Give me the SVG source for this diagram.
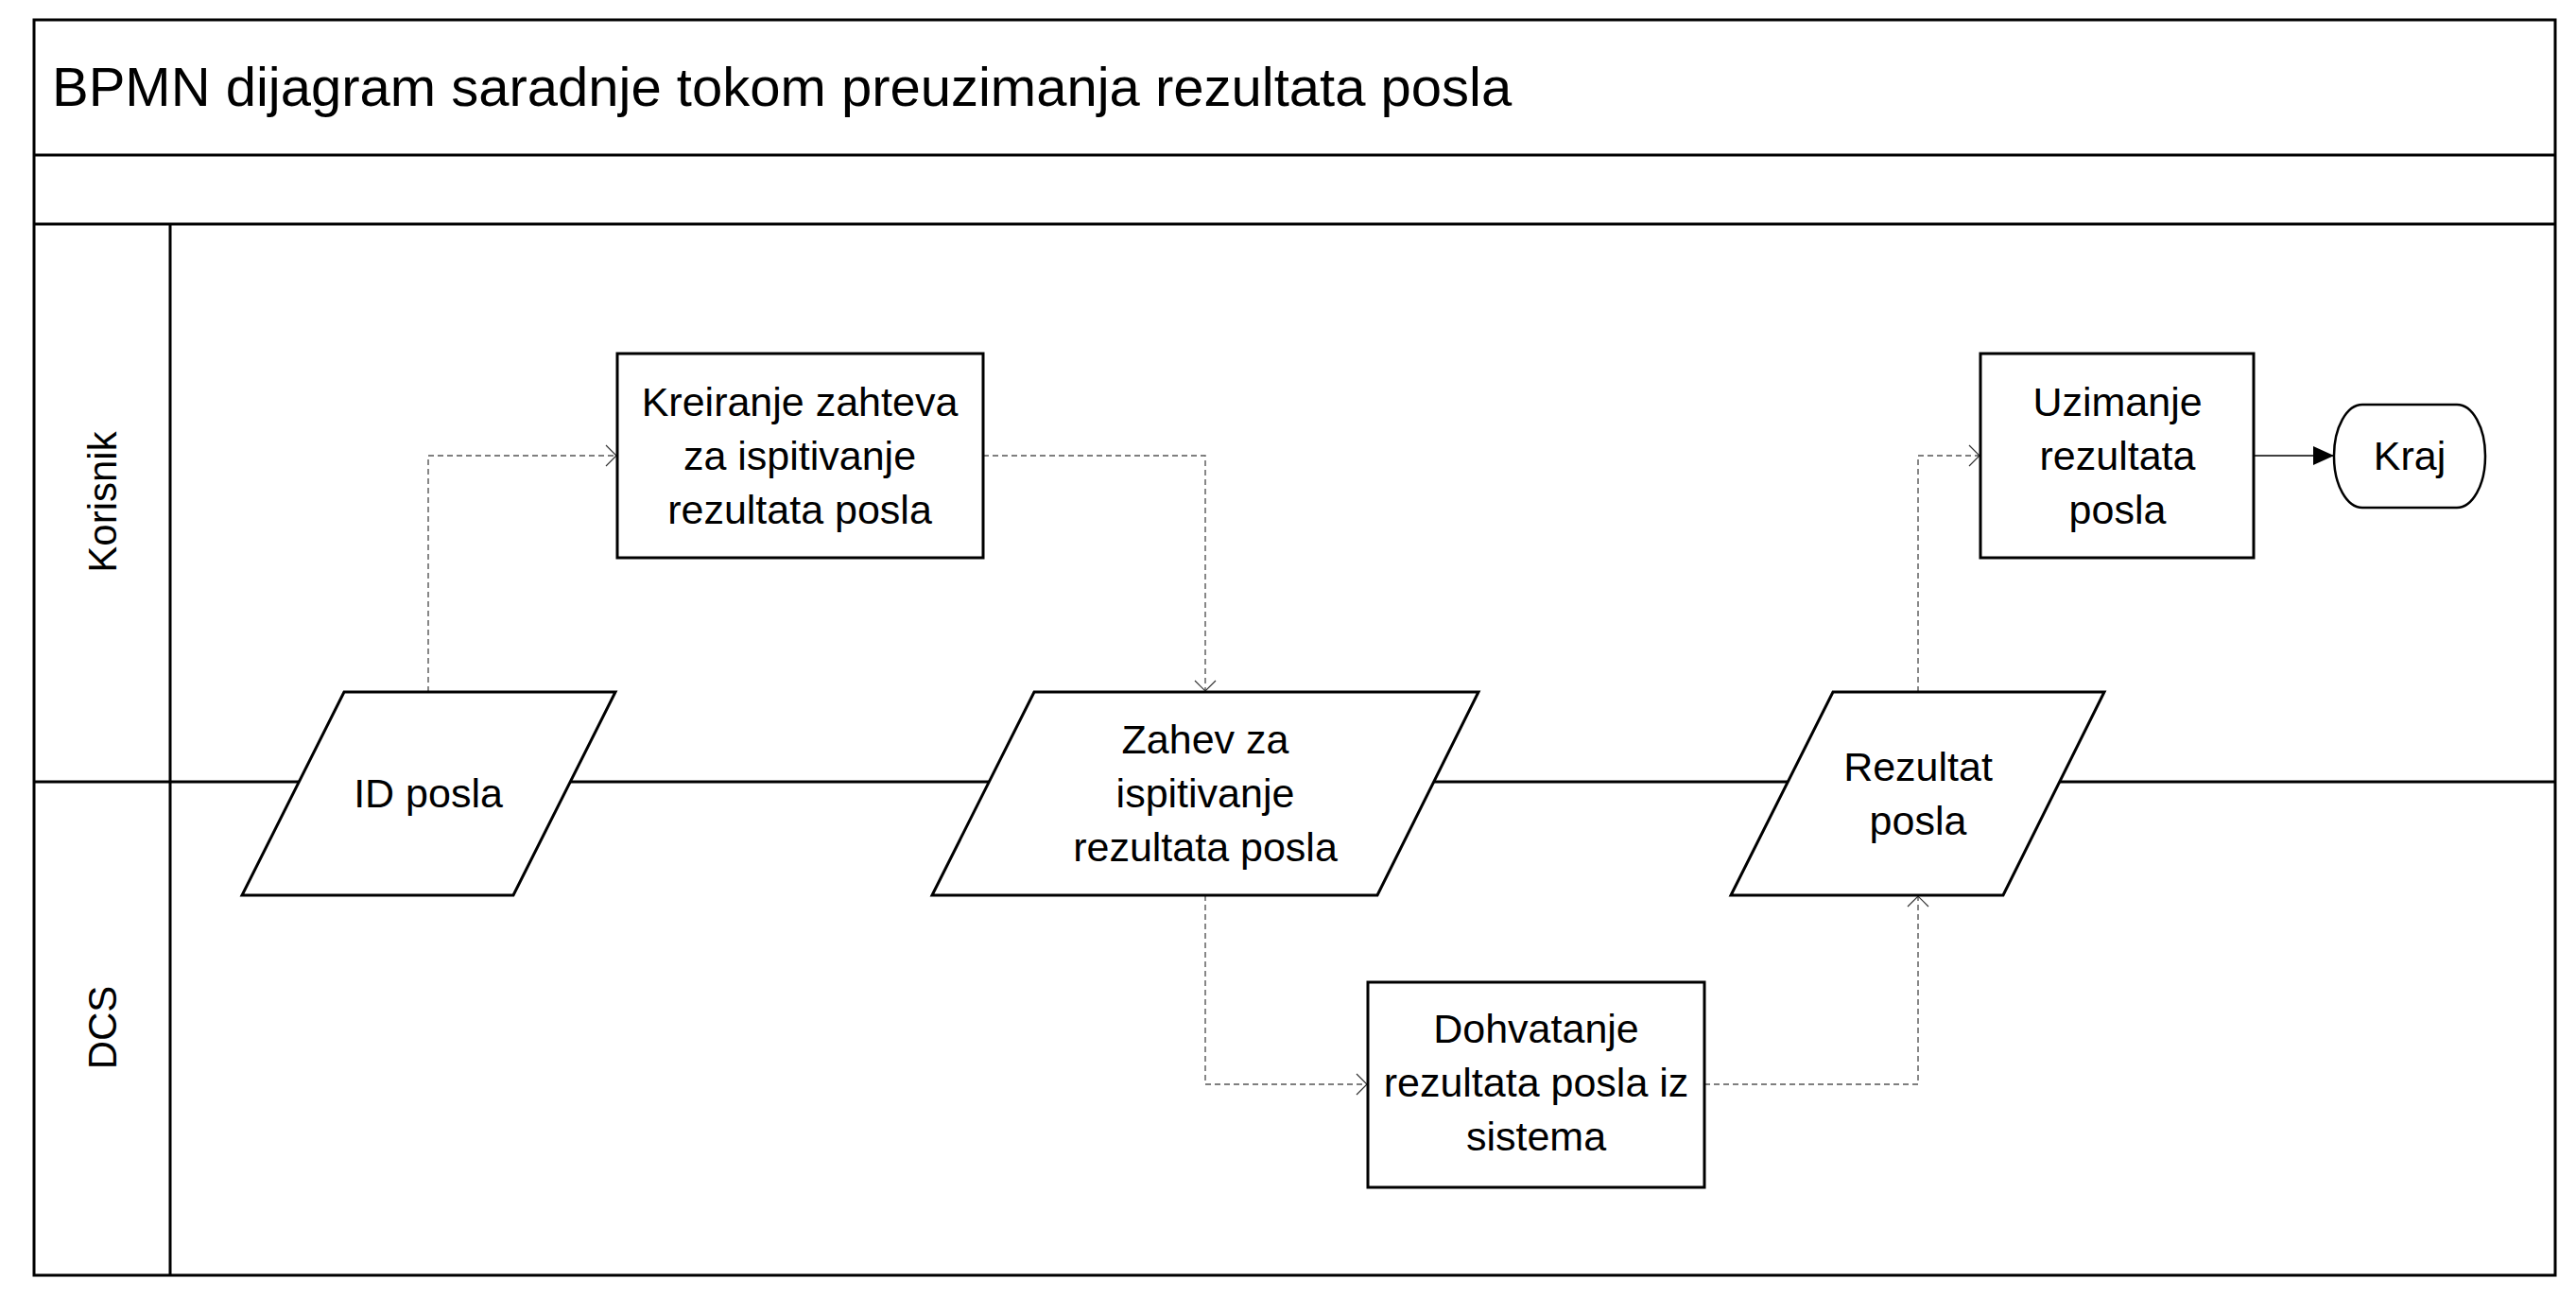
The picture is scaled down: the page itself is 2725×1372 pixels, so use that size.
<svg xmlns="http://www.w3.org/2000/svg" width="2725" height="1372" viewBox="0 0 2725 1372">
  <style>
    .frame { fill: none; stroke: #000; stroke-width: 3; }
    .sep { fill: none; stroke: #000; stroke-width: 3; }
    .node { fill: #fff; stroke: #000; stroke-width: 3; }
    .lbl { font-family: "Liberation Sans", Arial, sans-serif; font-size: 43px; fill: #000; text-anchor: middle; }
    .title { font-family: "Liberation Sans", Arial, sans-serif; font-size: 58px; fill: #000; }
    .lane { font-family: "Liberation Sans", Arial, sans-serif; font-size: 42px; fill: #000; text-anchor: middle; }
    .msg { fill: none; stroke: #555; stroke-width: 1.4; stroke-dasharray: 6 4; }
    .seq { fill: none; stroke: #000; stroke-width: 1.5; }
  </style>
  <defs>
    <marker id="open" markerUnits="userSpaceOnUse" viewBox="0 0 13 24" refX="12" refY="12" markerWidth="13" markerHeight="24" orient="auto">
      <path d="M1,1 L12,12 L1,23" fill="none" stroke="#333" stroke-width="1.2"/>
    </marker>
    <marker id="filled" markerUnits="userSpaceOnUse" viewBox="0 0 22 20" refX="21" refY="10" markerWidth="22" markerHeight="20" orient="auto">
      <path d="M0,0 L22,10 L0,20 Z" fill="#000"/>
    </marker>
  </defs>

  <rect width="2725" height="1372" fill="#fff"/>

  <g id="pool">
    <rect class="frame" x="36" y="21" width="2667" height="1328"/>
    <line class="sep" x1="36" y1="164" x2="2703" y2="164"/>
    <line class="sep" x1="36" y1="237" x2="2703" y2="237"/>
    <line class="sep" x1="180" y1="237" x2="180" y2="1349"/>
    <line class="sep" x1="36" y1="827" x2="2703" y2="827"/>
    <text class="title" x="55" y="112">BPMN dijagram saradnje tokom preuzimanja rezultata posla</text>
  </g>

  <g id="lane-korisnik">
    <text class="lane" x="123" y="531" transform="rotate(-90 123 531)">Korisnik</text>
  </g>
  <g id="lane-dcs">
    <text class="lane" x="123" y="1087" transform="rotate(-90 123 1087)">DCS</text>
  </g>

  <g id="connectors">
    <path class="msg" d="M453,732 V482 H652" marker-end="url(#open)"/>
    <path class="msg" d="M1040,482 H1275 V731" marker-end="url(#open)"/>
    <path class="msg" d="M1275,947 V1147 H1446" marker-end="url(#open)"/>
    <path class="msg" d="M1803,1147 H2029 V948" marker-end="url(#open)"/>
    <path class="msg" d="M2029,732 V482 H2094" marker-end="url(#open)"/>
    <path class="seq" d="M2384,482 H2468" marker-end="url(#filled)"/>
  </g>

  <g id="id-posla">
    <polygon class="node" points="364,732 651,732 543,947 256,947"/>
    <text class="lbl" x="453" y="854">ID posla</text>
  </g>

  <g id="kreiranje-zahteva">
    <rect class="node" x="653" y="374" width="387" height="216"/>
    <text class="lbl" x="846" y="440">Kreiranje zahteva</text>
    <text class="lbl" x="846" y="497">za ispitivanje</text>
    <text class="lbl" x="846" y="554">rezultata posla</text>
  </g>

  <g id="zahtev">
    <polygon class="node" points="1094,732 1564,732 1457,947 986,947"/>
    <text class="lbl" x="1275" y="797">Zahev za</text>
    <text class="lbl" x="1275" y="854">ispitivanje</text>
    <text class="lbl" x="1275" y="911">rezultata posla</text>
  </g>

  <g id="dohvatanje">
    <rect class="node" x="1447" y="1039" width="356" height="217"/>
    <text class="lbl" x="1625" y="1103">Dohvatanje</text>
    <text class="lbl" x="1625" y="1160">rezultata posla iz</text>
    <text class="lbl" x="1625" y="1217">sistema</text>
  </g>

  <g id="rezultat-posla">
    <polygon class="node" points="1939,732 2226,732 2119,947 1831,947"/>
    <text class="lbl" x="2029" y="826">Rezultat</text>
    <text class="lbl" x="2029" y="883">posla</text>
  </g>

  <g id="uzimanje">
    <rect class="node" x="2095" y="374" width="289" height="216"/>
    <text class="lbl" x="2240" y="440">Uzimanje</text>
    <text class="lbl" x="2240" y="497">rezultata</text>
    <text class="lbl" x="2240" y="554">posla</text>
  </g>

  <g id="kraj">
    <rect x="2469" y="428" width="160" height="109" rx="30" ry="54" fill="#fff" stroke="#000" stroke-width="2.5"/>
    <text class="lbl" x="2549" y="497">Kraj</text>
  </g>
</svg>
